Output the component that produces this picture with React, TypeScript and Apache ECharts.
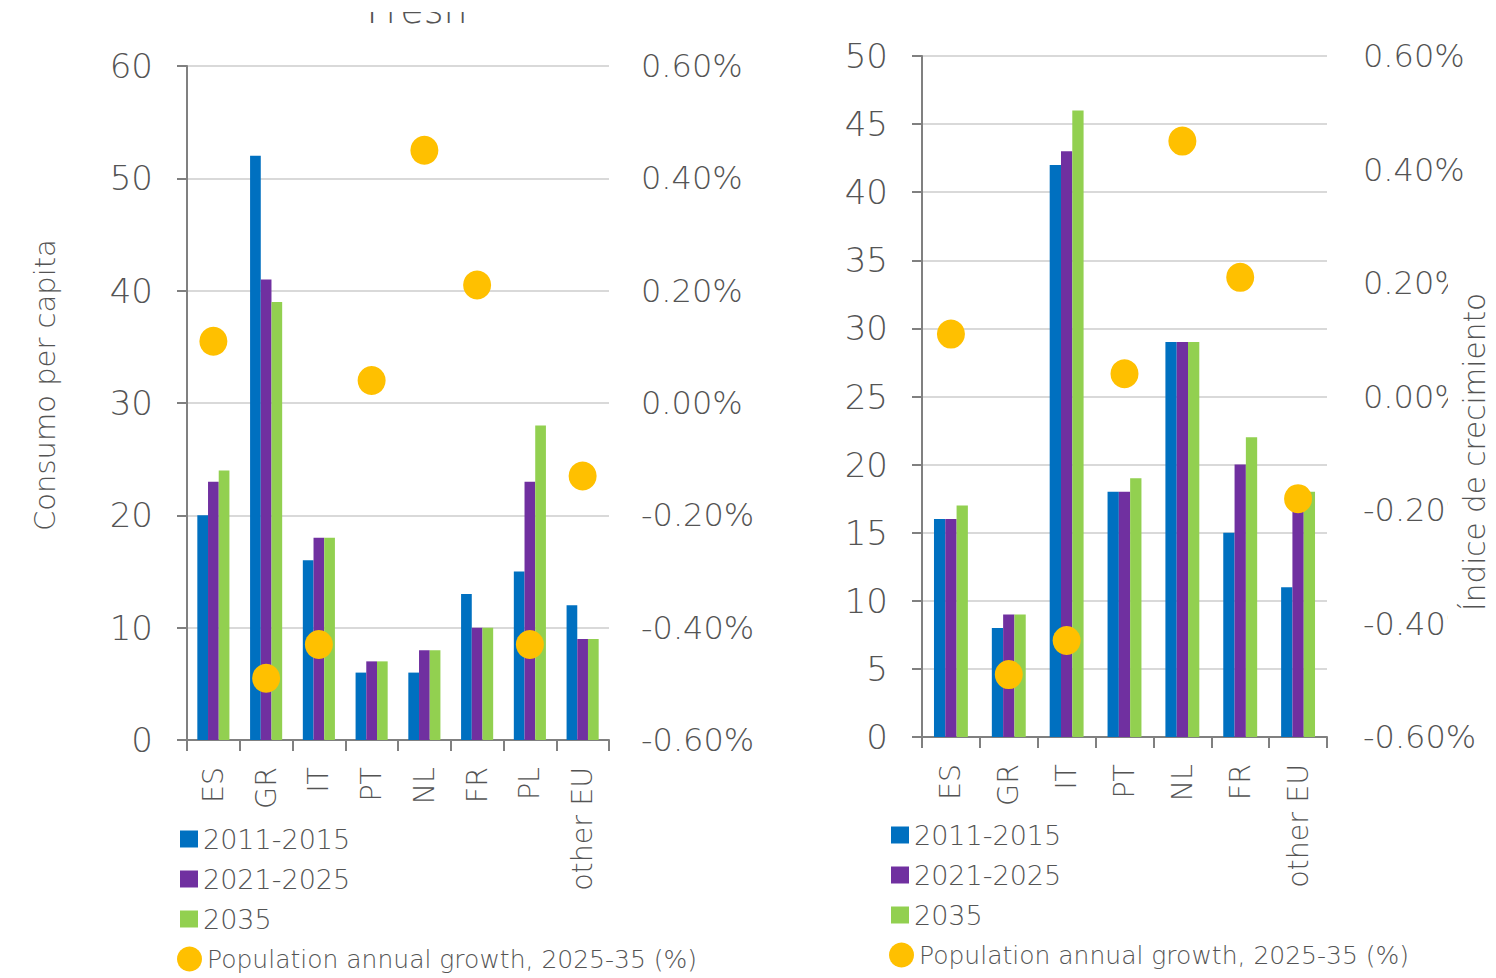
import React, { useEffect, useRef } from 'react';
import * as echarts from 'echarts';

// ---------- data ----------
const catsLeft = ['ES', 'GR', 'IT', 'PT', 'NL', 'FR', 'PL', 'other EU'];
const left2011 = [20, 52, 16, 6, 6, 13, 15, 12];
const left2021 = [23, 41, 18, 7, 8, 10, 23, 9];
const left2035 = [24, 39, 18, 7, 8, 10, 28, 9];
const leftPop = [0.11, -0.49, -0.43, 0.04, 0.45, 0.21, -0.43, -0.13];

const catsRight = ['ES', 'GR', 'IT', 'PT', 'NL', 'FR', 'other EU'];
const right2011 = [16, 8, 42, 18, 29, 15, 11];
const right2021 = [16, 9, 43, 18, 29, 20, 17];
const right2035 = [17, 9, 46, 19, 29, 22, 18];
const rightPop = [0.11, -0.49, -0.43, 0.04, 0.45, 0.21, -0.18];

const seriesNames = ['2011-2015', '2021-2025', '2035'];
const popName = 'Population annual growth, 2025-35 (%)';
const leftTitle = 'Fresh';
const leftAxisName = 'Consumo per capita';
const rightAxisName = 'Índice de crecimiento';

// ---------- style ----------
const FONT = "'DejaVu Sans', sans-serif";
const FW = 300;
const TXT = '#545454';
const AXIS = '#808080';
const GRIDC = '#d9d9d9';
const COLORS = ['#0070C0', '#7030A0', '#92D050'];
const DOT = '#FFC000';

const pct = (v: number) => v.toFixed(2) + '%';

function xAxisFor(gridIndex: number, data: string[]) {
  return {
    type: 'category',
    gridIndex,
    data,
    axisLine: { show: true, lineStyle: { color: AXIS, width: 2 } },
    axisTick: { show: true, length: 11, lineStyle: { color: AXIS, width: 2 } },
    axisLabel: { rotate: 90, interval: 0, fontSize: 28.5, fontWeight: FW, color: TXT, fontFamily: FONT, margin: 27 },
    splitLine: { show: false },
  };
}

function leftY(gridIndex: number, max: number, interval: number) {
  return {
    type: 'value',
    gridIndex,
    position: 'left',
    min: 0,
    max,
    interval,
    axisLine: { show: true, lineStyle: { color: AXIS, width: 2 } },
    axisTick: { show: true, length: 10, lineStyle: { color: AXIS, width: 2 } },
    axisLabel: { fontSize: 34, fontWeight: FW, color: TXT, fontFamily: FONT, margin: 34 },
    splitLine: { show: true, lineStyle: { color: GRIDC, width: 2 } },
  };
}

function rightY(gridIndex: number, margin: number) {
  return {
    type: 'value',
    gridIndex,
    position: 'right',
    min: -0.6,
    max: 0.6,
    interval: 0.2,
    axisLine: { show: false },
    axisTick: { show: false },
    splitLine: { show: false },
    axisLabel: { fontSize: 32, fontWeight: FW, color: TXT, fontFamily: FONT, margin, formatter: pct },
  };
}

function barSeries(xi: number, yi: number, values: number[][], width: number) {
  return values.map((d, i) => ({
    type: 'bar',
    name: seriesNames[i],
    xAxisIndex: xi,
    yAxisIndex: yi,
    data: d,
    barWidth: width,
    barGap: '0%',
    itemStyle: { color: COLORS[i] },
    z: 2,
  }));
}

function dotSeries(xi: number, yi: number, data: number[]) {
  return {
    type: 'scatter',
    name: popName,
    xAxisIndex: xi,
    yAxisIndex: yi,
    data,
    symbol: 'circle',
    symbolSize: [28, 29],
    itemStyle: { color: DOT, opacity: 1 },
    z: 5,
  };
}

function barLegend(left: number, top: number) {
  return {
    orient: 'vertical',
    left,
    top,
    padding: 0,
    itemGap: 10,
    itemWidth: 18,
    itemHeight: 17,
    icon: 'rect',
    selectedMode: false,
    data: seriesNames,
    textStyle: { fontSize: 27, lineHeight: 30, fontWeight: FW, color: TXT, fontFamily: FONT },
  };
}

function dotLegend(left: number, top: number) {
  return {
    orient: 'vertical',
    left,
    top,
    padding: 0,
    itemWidth: 25,
    itemHeight: 25,
    selectedMode: false,
    data: [{ name: popName, icon: 'circle' }],
    textStyle: { fontSize: 25, lineHeight: 30, fontWeight: FW, color: TXT, fontFamily: FONT },
  };
}

const option = {
  animation: false,
  backgroundColor: '#ffffff',
  grid: [
    { left: 187, top: 66, width: 422, height: 674 },
    { left: 922, top: 56, width: 405, height: 681 },
  ],
  xAxis: [xAxisFor(0, catsLeft), xAxisFor(1, catsRight)],
  yAxis: [leftY(0, 60, 10), rightY(0, 32), leftY(1, 50, 5), rightY(1, 36)],
  legend: [barLegend(180, 824), dotLegend(177, 944), barLegend(891, 820), dotLegend(889, 940)],
  series: [
    ...barSeries(0, 0, [left2011, left2021, left2035], 10.7),
    dotSeries(0, 1, leftPop),
    ...barSeries(1, 2, [right2011, right2021, right2035], 11.3),
    dotSeries(1, 3, rightPop),
  ],
  graphic: [
    {
      type: 'text',
      x: 417,
      y: 10,
      z: 50,
      style: { text: leftTitle, fontSize: 38, fontWeight: FW, fontFamily: FONT, fill: TXT, align: 'center', verticalAlign: 'middle' },
    },
    { type: 'rect', x: 330, y: 0, z: 60, shape: { width: 180, height: 12 }, style: { fill: '#ffffff' } },
    {
      type: 'text',
      x: 45,
      y: 385,
      rotation: Math.PI / 2,
      z: 50,
      style: { text: leftAxisName, fontSize: 29, fontWeight: FW, fontFamily: FONT, fill: TXT, align: 'center', verticalAlign: 'middle' },
    },
    { type: 'rect', x: 1448, y: 195, z: 60, shape: { width: 48, height: 465 }, style: { fill: '#ffffff' } },
    {
      type: 'text',
      x: 1475,
      y: 452,
      rotation: Math.PI / 2,
      z: 70,
      style: { text: rightAxisName, fontSize: 29.5, fontWeight: FW, fontFamily: FONT, fill: TXT, align: 'center', verticalAlign: 'middle' },
    },
  ],
};

export default function App() {
  const ref = useRef<HTMLDivElement>(null);
  useEffect(() => {
    if (!ref.current) return;
    const chart = echarts.init(ref.current, null, { renderer: 'svg' });
    chart.setOption(option as any);
    return () => chart.dispose();
  }, []);
  return (
    <div
      ref={ref}
      style={{ position: 'fixed', left: 0, top: 0, width: 1496, height: 978, background: '#ffffff' }}
    />
  );
}
